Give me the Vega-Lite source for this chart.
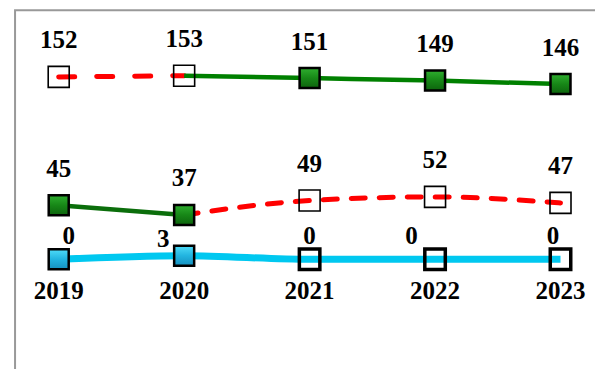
{
  "$schema": "https://vega.github.io/schema/vega-lite/v6.json",
  "width": 595,
  "height": 369,
  "autosize": {"type": "fit", "contains": "padding"},
  "padding": 0,
  "background": "white",
  "config": {"view": {"stroke": null}, "text": {"font": "'Liberation Serif', 'Times New Roman', Times, serif", "fontWeight": "bold", "fontSize": 25, "color": "black", "baseline": "alphabetic"}},
  "data": {"values": [
    {"series": "S1", "year": 2019, "value": 152},
    {"series": "S1", "year": 2020, "value": 153},
    {"series": "S1", "year": 2021, "value": 151},
    {"series": "S1", "year": 2022, "value": 149},
    {"series": "S1", "year": 2023, "value": 146},
    {"series": "S2", "year": 2019, "value": 45},
    {"series": "S2", "year": 2020, "value": 37},
    {"series": "S2", "year": 2021, "value": 49},
    {"series": "S2", "year": 2022, "value": 52},
    {"series": "S2", "year": 2023, "value": 47},
    {"series": "S3", "year": 2019, "value": 0},
    {"series": "S3", "year": 2020, "value": 3},
    {"series": "S3", "year": 2021, "value": 0},
    {"series": "S3", "year": 2022, "value": 0},
    {"series": "S3", "year": 2023, "value": 0}
  ]},
  "encoding": {
    "x": {"field": "year", "type": "quantitative", "scale": {"domain": [2018.532, 2023.275], "nice": false, "zero": false}, "axis": null},
    "y": {"field": "value", "type": "quantitative", "scale": {"domain": [-91.4, 216.1], "nice": false, "zero": false}, "axis": null}
  },
  "layer": [
    {
      "transform": [{"filter": "datum.series == 'S1' && datum.year == 2019"}],
      "mark": {"type": "rect", "fill": null, "fillOpacity": 0, "stroke": "#999999", "strokeWidth": 2, "clip": true},
      "encoding": {"x": {"datum": 2018.652}, "x2": {"datum": 2023.6}, "y": {"datum": 207.5}, "y2": {"datum": -120}}
    },
    {
      "transform": [{"filter": "datum.series == 'S1' && datum.year <= 2020"}],
      "mark": {"type": "line", "color": "#ff0000", "strokeWidth": 5, "strokeDash": [16, 22], "strokeCap": "round", "interpolate": "monotone"}
    },
    {
      "transform": [{"filter": "datum.series == 'S1' && datum.year >= 2020"}],
      "mark": {"type": "line", "color": "#008000", "strokeWidth": 4.5, "interpolate": "monotone"}
    },
    {
      "transform": [{"filter": "datum.series == 'S2' && datum.year <= 2020"}],
      "mark": {"type": "line", "color": "#0b6e0b", "strokeWidth": 4.5, "interpolate": "monotone"}
    },
    {
      "transform": [{"filter": "datum.series == 'S2' && datum.year >= 2020"}],
      "mark": {"type": "line", "color": "#ff0000", "strokeWidth": 5, "strokeDash": [14, 14], "strokeCap": "round", "interpolate": "monotone"}
    },
    {
      "transform": [{"filter": "datum.series == 'S3'"}],
      "mark": {"type": "line", "color": "#00c8f0", "strokeWidth": 7, "interpolate": "monotone"}
    },
    {
      "transform": [{"filter": "(datum.series == 'S1' && datum.year >= 2021) || (datum.series == 'S2' && datum.year <= 2020)"}],
      "mark": {"type": "point", "shape": "square", "size": 400, "filled": true, "opacity": 1, "stroke": "black", "strokeWidth": 2.5,
        "fill": {"gradient": "linear", "x1": 0, "y1": 0, "x2": 0, "y2": 1, "stops": [{"offset": 0, "color": "#2fae2f"}, {"offset": 0.5, "color": "#178717"}, {"offset": 1, "color": "#0d640d"}]}}
    },
    {
      "transform": [{"filter": "datum.series == 'S3' && datum.year <= 2020"}],
      "mark": {"type": "point", "shape": "square", "size": 400, "filled": true, "opacity": 1, "stroke": "black", "strokeWidth": 2.5,
        "fill": {"gradient": "linear", "x1": 0, "y1": 0, "x2": 0, "y2": 1, "stops": [{"offset": 0, "color": "#4fdcf8"}, {"offset": 0.5, "color": "#22b4e0"}, {"offset": 1, "color": "#1690bf"}]}}
    },
    {
      "transform": [{"filter": "(datum.series == 'S1' && datum.year <= 2020) || (datum.series == 'S2' && datum.year >= 2021)"}],
      "mark": {"type": "point", "shape": "square", "size": 441, "filled": false, "opacity": 1, "stroke": "black", "strokeWidth": 1.6, "fill": null}
    },
    {
      "transform": [{"filter": "datum.series == 'S3' && datum.year >= 2021"}],
      "mark": {"type": "point", "shape": "square", "size": 420, "filled": false, "opacity": 1, "stroke": "black", "strokeWidth": 3.5, "fill": null}
    },
    {
      "transform": [{"filter": "datum.series != 'S3'"}],
      "mark": {"type": "text", "dy": -28.5},
      "encoding": {"text": {"field": "value", "type": "quantitative"}}
    },
    {
      "transform": [{"filter": "datum.series == 'S3' && datum.year == 2019"}],
      "mark": {"type": "text", "dy": -15, "dx": 10},
      "encoding": {"text": {"field": "value", "type": "quantitative"}}
    },
    {
      "transform": [{"filter": "datum.series == 'S3' && datum.year == 2020"}],
      "mark": {"type": "text", "dy": -8.5, "dx": -21},
      "encoding": {"text": {"field": "value", "type": "quantitative"}}
    },
    {
      "transform": [{"filter": "datum.series == 'S3' && datum.year == 2021"}],
      "mark": {"type": "text", "dy": -15, "dx": 0},
      "encoding": {"text": {"field": "value", "type": "quantitative"}}
    },
    {
      "transform": [{"filter": "datum.series == 'S3' && datum.year == 2022"}],
      "mark": {"type": "text", "dy": -15, "dx": -23.5},
      "encoding": {"text": {"field": "value", "type": "quantitative"}}
    },
    {
      "transform": [{"filter": "datum.series == 'S3' && datum.year == 2023"}],
      "mark": {"type": "text", "dy": -15, "dx": -7.5},
      "encoding": {"text": {"field": "value", "type": "quantitative"}}
    },
    {
      "transform": [{"filter": "datum.series == 'S3'"}],
      "mark": {"type": "text", "dy": 40},
      "encoding": {"y": {"datum": 0, "type": "quantitative"}, "text": {"field": "year", "type": "quantitative", "format": "d"}}
    }
  ]
}
